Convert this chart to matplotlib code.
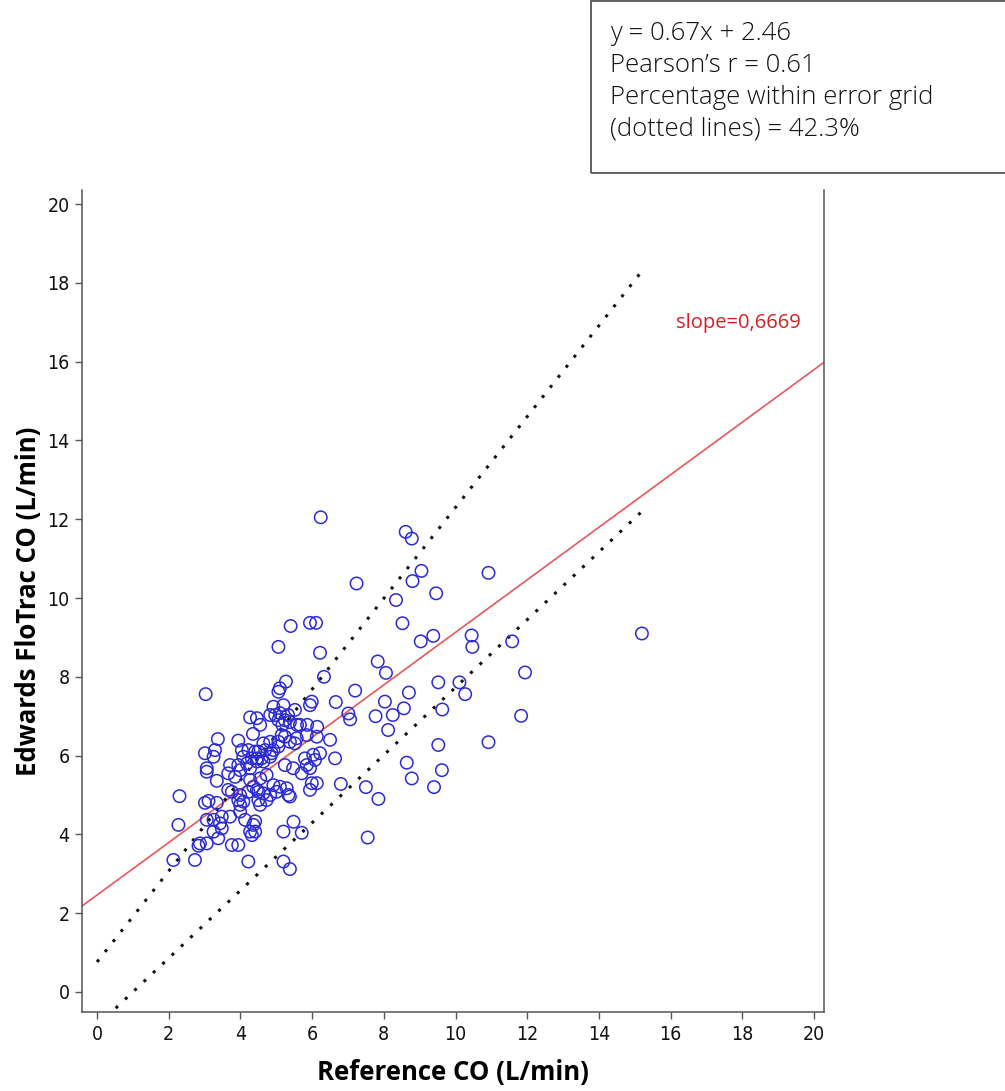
import matplotlib
matplotlib.use("Agg")
import matplotlib.pyplot as plt
from matplotlib.patches import Rectangle
import numpy as np

# ---------------- data ----------------
ref_co = [
    15.2, 6.24, 8.61, 8.78, 7.24, 9.05, 8.80, 10.92, 9.46, 8.34, 5.40, 5.94, 6.11, 8.52,
    9.03, 9.38, 10.45, 10.47, 11.58, 5.06, 6.22, 7.83, 8.06, 11.94, 6.33, 5.27, 5.10, 5.06,
    3.03, 9.52, 10.11, 10.27, 8.70, 7.20, 6.66, 5.99, 5.94, 8.03, 8.56, 9.63, 7.01, 7.06,
    7.77, 8.25, 11.83, 8.12, 6.50, 9.52, 10.92, 6.64, 8.64, 9.62, 8.78, 9.40, 7.50, 6.80,
    7.85, 7.55,
    4.27, 4.46, 4.55, 4.92, 5.20, 5.52, 4.83, 4.97, 5.10, 5.33, 5.24, 5.38, 5.06, 5.17,
    5.58, 5.66, 5.86, 6.14,
    3.37, 3.94, 3.01, 3.25, 3.29, 4.04, 4.22, 4.41, 4.08, 4.32, 4.35, 4.64, 4.83, 5.06,
    5.38, 5.52, 5.15, 5.24, 5.57, 5.85, 6.13, 4.50, 4.69, 4.87, 4.46, 4.59, 4.83, 5.06,
    4.92, 5.80, 6.03, 6.22, 6.08,
    3.06, 3.06, 3.34, 3.71, 3.94, 3.99, 3.66, 3.85, 4.18, 4.27, 4.46, 4.64, 5.24, 5.47,
    5.71, 5.94, 5.85, 5.99, 6.13, 5.94, 4.55, 4.73,
    2.30, 3.01, 3.11, 3.34, 3.66, 3.76, 3.99, 3.99, 3.99, 4.08, 3.94, 4.27, 4.36, 4.22,
    4.50, 4.92, 5.10, 5.29, 4.46, 4.64, 4.83, 5.01, 5.34, 4.50, 4.73, 4.55, 5.38,
    2.27, 3.06, 3.25, 3.43, 3.48, 3.25, 3.48, 3.71, 3.38, 4.13, 4.36, 4.27, 4.32, 4.41,
    4.41, 5.48, 5.20, 5.71, 2.87, 3.06, 2.83, 3.76, 3.94, 2.13, 2.73, 4.22, 5.20, 5.38,
]
flotrac_co = [
    9.10, 12.05, 11.68, 11.51, 10.37, 10.69, 10.43, 10.64, 10.12, 9.95, 9.29, 9.37, 9.37, 9.36,
    8.90, 9.04, 9.05, 8.76, 8.90, 8.76, 8.61, 8.39, 8.10, 8.11, 8.00, 7.88, 7.71, 7.62,
    7.56, 7.86, 7.86, 7.56, 7.60, 7.65, 7.36, 7.37, 7.28, 7.37, 7.20, 7.17, 7.07, 6.92,
    7.00, 7.03, 7.01, 6.65, 6.40, 6.27, 6.34, 5.93, 5.82, 5.63, 5.42, 5.20, 5.20, 5.28,
    4.90, 3.92,
    6.97, 6.95, 6.78, 7.24, 7.28, 7.16, 7.03, 7.03, 7.08, 7.03, 6.90, 6.85, 6.90, 6.78,
    6.78, 6.78, 6.78, 6.73,
    6.42, 6.38, 6.06, 5.97, 6.14, 6.14, 6.14, 6.10, 5.97, 5.93, 6.55, 6.31, 6.35, 6.35,
    6.35, 6.31, 6.52, 6.48, 6.44, 6.52, 6.48, 6.10, 6.14, 6.06, 5.93, 5.93, 5.97, 6.23,
    6.14, 5.93, 6.02, 6.06, 5.89,
    5.68, 5.59, 5.36, 5.76, 5.76, 5.63, 5.55, 5.46, 5.80, 5.68, 5.85, 5.85, 5.76, 5.68,
    5.55, 5.68, 5.76, 5.30, 5.30, 5.13, 5.42, 5.51,
    4.97, 4.80, 4.85, 4.80, 5.13, 5.08, 5.00, 4.75, 4.58, 4.83, 4.87, 5.38, 5.21, 5.08,
    5.08, 5.25, 5.21, 5.17, 5.13, 5.04, 5.00, 5.08, 5.00, 4.87, 4.87, 4.75, 4.96,
    4.24, 4.37, 4.37, 4.28, 4.15, 4.07, 4.45, 4.45, 3.90, 4.37, 4.24, 4.07, 3.98, 4.33,
    4.07, 4.32, 4.07, 4.04, 3.77, 3.77, 3.71, 3.73, 3.73, 3.35, 3.35, 3.31, 3.31, 3.12,
]

fit_slope = 0.6669
fit_intercept = 2.46
grid_upper_x = [0.0, 15.2]
grid_upper_y = [0.76, 18.3]
grid_lower_x = [0.0, 15.2]
grid_lower_y = [-0.86, 12.2]

x_ticks = list(range(0, 21, 2))
y_ticks = list(range(0, 21, 2))

stats_lines = [
    "y = 0.67x + 2.46",
    "Pearson\u2019s r = 0.61",
    "Percentage within error grid",
    "(dotted lines) = 42.3%",
]
slope_label = "slope=0,6669"
x_label = "Reference CO (L/min)"
y_label = "Edwards FloTrac CO (L/min)"

# ---------------- figure ----------------
wide = ["Open Sans", "DejaVu Sans"]

W, H = 1005, 1091
fig = plt.figure(figsize=(W / 100, H / 100), dpi=100)
ax_l, ax_r, ax_t, ax_b = 82, 824, 190, 1012
ax = fig.add_axes([ax_l / W, 1 - ax_b / H, (ax_r - ax_l) / W, (ax_b - ax_t) / H])

xlim = (-0.42, 20.28)
ylim = (-0.51, 20.36)
ax.set_xlim(*xlim)
ax.set_ylim(*ylim)

# regression line
xs = np.array(xlim)
ax.plot(xs, fit_slope * xs + fit_intercept, color="#e8585a", lw=1.2, zorder=2)

# error grid dotted lines
for gx, gy in ((grid_upper_x, grid_upper_y), (grid_lower_x, grid_lower_y)):
    ax.plot(gx, gy, color="#111111", lw=2.2, linestyle=(0, (1, 3.2)), zorder=3)

# scatter
ax.scatter(ref_co, flotrac_co, s=80, facecolors="none", edgecolors="#2b2bd6",
           linewidths=1.1, zorder=4)

# ticks / spines
tick_kw = dict(family="DejaVu Sans", fontstretch="condensed", fontsize=14,
               fontweight="medium", color="#111111")
ax.set_xticks(x_ticks, labels=[str(t) for t in x_ticks], **tick_kw)
ax.set_yticks(y_ticks, labels=[str(t) for t in y_ticks], **tick_kw)
ax.tick_params(direction="out", length=5, width=1.0, color="#555555", pad=4)
ax.spines["top"].set_visible(False)
for s in ("left", "right", "bottom"):
    ax.spines[s].set_color("#555555")
    ax.spines[s].set_linewidth(1.1)

ax.set_xlabel(x_label, fontsize=18.5, fontweight="bold", family=wide, labelpad=11)
ax.set_ylabel(y_label, fontsize=18.5, fontweight="bold", family=wide, labelpad=4)

# slope annotation
fig.text(676 / W, 1 - 323 / H, slope_label, color="#d42020", fontsize=14.5,
         family=wide, va="center", ha="left")

# stats box
rect = Rectangle((591 / W, 1 - 173 / H), (W + 10 - 591) / W, (173 - 1) / H,
                 transform=fig.transFigure, fill=False, edgecolor="#555555", lw=1.3)
fig.patches.append(rect)
for i, line in enumerate(stats_lines):
    fig.text(610 / W, 1 - (34 + i * 31.5) / H, line, fontsize=18.5, fontweight="light",
             family=wide, va="center", ha="left", color="#111111")

fig.savefig("out.png", dpi=100)
